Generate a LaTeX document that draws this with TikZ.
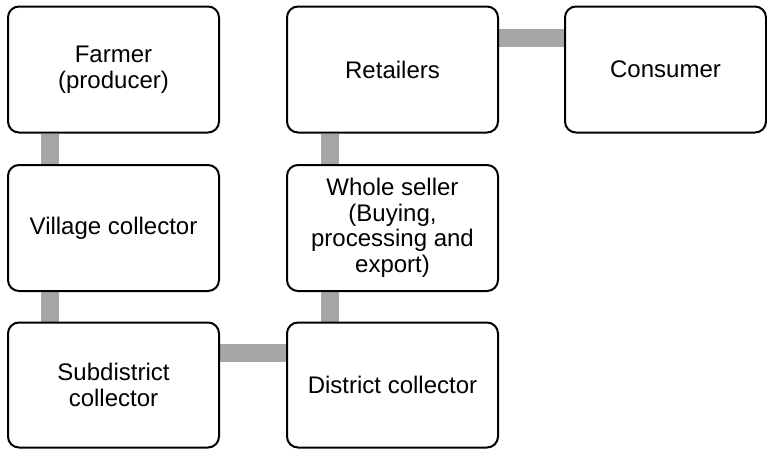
\documentclass[tikz,border=0pt]{standalone}
\usepackage{fontspec}
\setmainfont{Liberation Sans}
\usetikzlibrary{backgrounds}
\definecolor{linkgray}{HTML}{A6A6A6}
\begin{document}
\begin{tikzpicture}[x=1pt,y=-1pt,
  stage/.style={draw=black, line width=2pt, fill=white, rounded corners=11pt,
    minimum width=211pt, minimum height=126pt, inner sep=0pt, align=center,
    font=\fontsize{24}{25.5}\selectfont},
  link/.style={draw=linkgray, line width=18pt}]
\useasboundingbox (0,0) rectangle (767,448);

% supply chain stages
\node[stage] (farmer)    at (113.5,69.5) {Farmer\\(producer)};
\node[stage] (retail)    at (392.5,69.5) {Retailers};
\node[stage, minimum width=201pt] (consumer) at (665.5,69.5) {Consumer};
\node[stage] (village)   at (113.5,228) {Village collector};
\node[stage] (wholesale) at (392.5,228) {Whole seller\\(Buying,\\processing and\\export)};
\node[stage, minimum height=125pt] (subdist) at (113.5,385) {Subdistrict\\collector};
\node[stage, minimum height=125pt] (district) at (392.5,385) {District collector};

% links between stages, kept behind the boxes
\begin{scope}[on background layer]
\draw[link] ([xshift=43pt]farmer.south west) -- ([xshift=43pt]village.north west);
\draw[link] ([xshift=43pt]village.south west) -- ([xshift=43pt]subdist.north west);
\draw[link] ([yshift=-31pt]subdist.north east) -- ([yshift=-31pt]district.north west);
\draw[link] ([xshift=43.5pt]district.north west) -- ([xshift=43.5pt]wholesale.south west);
\draw[link] ([xshift=43.5pt]wholesale.north west) -- ([xshift=43.5pt]retail.south west);
\draw[link] ([yshift=-32pt]retail.north east) -- ([yshift=-32pt]consumer.north west);
\end{scope}
\end{tikzpicture}
\end{document}
